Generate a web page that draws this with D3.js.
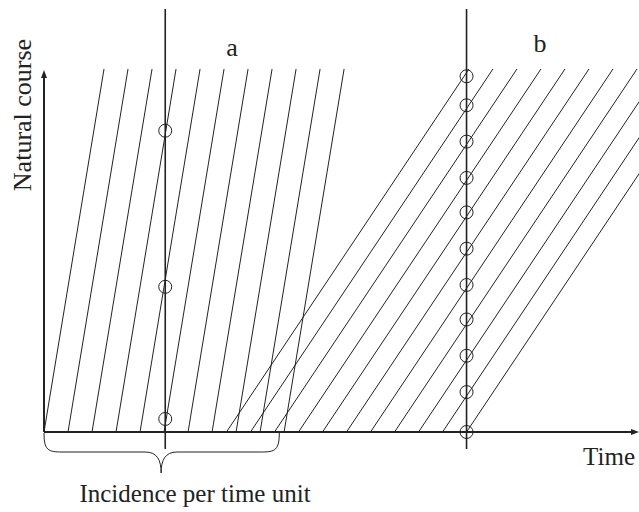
<!DOCTYPE html>
<html>
<head>
<meta charset="utf-8">
<script src="https://cdn.jsdelivr.net/npm/d3@7"></script>
<style>
  body { margin: 0; background: #fff; }
</style>
</head>
<body>
<svg id="chart" width="639" height="512"></svg>
<script>
// cohorts of the two diseases: time of onset and time the natural course ends
var aStarts = [0, 1, 2, 3, 4, 5, 6, 7, 8, 9, 10];
var aEnds = [2.5, 3.5, 4.5, 5.5, 6.5, 7.5, 8.5, 9.5, 10.5, 11.5, 12.5];
var bStarts = [7.6, 8.6, 9.6, 10.6, 11.6, 12.6, 13.6, 14.6, 15.6, 16.6, 17.6];
var bEnds = [17.7, 18.7, 19.7, 20.7, 21.7, 22.7, 23.7, 24.7, 25.7, 26.7, 27.7];

// prevalent cases seen on each cross section (natural course position)
var aCircles = [3.6, 40, 83];
var bCircles = [0, 11, 21, 31, 40.5, 50.5, 60.5, 70, 80, 90, 98];

var crossTimes = [5.05, 17.6];      // the two cross sections a and b
var crossLabels = ["a", "b"];
var crossRange = [-4.7, 116.5];     // vertical extent of the cross sections
var braceSpan = [0, 9.8];           // incidence per time unit

var serif = "'Liberation Serif', 'Times New Roman', 'DejaVu Serif', serif";

var svg = d3.select("#chart");

var x = d3.scaleLinear().domain([0, 24.7]).range([44, 637]);
var y = d3.scaleLinear().domain([0, 100]).range([432, 69]);

var ink = "#222";

// cohort lines
var g = svg.append("g").attr("class", "cohorts");

g.selectAll("line.a")
    .data(aStarts)
  .enter().append("line")
    .attr("class", "a")
    .attr("x1", function (d) { return x(d); })
    .attr("y1", y(0))
    .attr("x2", function (d, i) { return x(aEnds[i]); })
    .attr("y2", y(100))
    .attr("stroke", ink)
    .attr("stroke-width", 1);

g.selectAll("line.b")
    .data(bStarts)
  .enter().append("line")
    .attr("class", "b")
    .attr("x1", function (d) { return x(d); })
    .attr("y1", y(0))
    .attr("x2", function (d, i) { return x(bEnds[i]); })
    .attr("y2", y(100))
    .attr("stroke", ink)
    .attr("stroke-width", 1);

// cross sections
svg.selectAll("line.cross")
    .data(crossTimes)
  .enter().append("line")
    .attr("class", "cross")
    .attr("x1", function (d) { return x(d); })
    .attr("x2", function (d) { return x(d); })
    .attr("y1", y(crossRange[0]))
    .attr("y2", y(crossRange[1]))
    .attr("stroke", ink)
    .attr("stroke-width", 1.6);

// axes (no ticks, just arrows)
svg.append("line")
    .attr("x1", x(0)).attr("y1", y(0))
    .attr("x2", x(0)).attr("y2", y(100) + 6)
    .attr("stroke", ink).attr("stroke-width", 2);
svg.append("path")
    .attr("d", "M" + x(0) + "," + (y(100) + 1) + "l-3,8h6z")
    .attr("fill", ink);

svg.append("line")
    .attr("x1", x(0)).attr("y1", y(0))
    .attr("x2", x(24.7) - 4).attr("y2", y(0))
    .attr("stroke", ink).attr("stroke-width", 2);
svg.append("path")
    .attr("d", "M" + (x(24.7) + 2) + "," + y(0) + "l-8,-3v6z")
    .attr("fill", ink);

// circles on the cross sections
function circles(vals, t, cls) {
    svg.selectAll("circle." + cls)
        .data(vals)
      .enter().append("circle")
        .attr("class", cls)
        .attr("cx", x(t))
        .attr("cy", function (d) { return y(d); })
        .attr("r", 6.5)
        .attr("fill", "none")
        .attr("stroke", ink)
        .attr("stroke-width", 1);
}
circles(aCircles, crossTimes[0], "ca");
circles(bCircles, crossTimes[1], "cb");

// brace under the axis
var bx0 = x(braceSpan[0]), bx1 = x(braceSpan[1]), bm = (bx0 + bx1) / 2 - 0.5;
var bTop = y(0) + 1, bMid = y(0) + 20, bTip = y(0) + 41;
svg.append("path")
    .attr("d",
        "M" + bx0 + "," + bTop +
        "C" + bx0 + "," + (bMid - 2) + " " + (bx0 + 4) + "," + bMid + " " + (bx0 + 18) + "," + bMid +
        "L" + (bm - 16) + "," + bMid +
        "C" + (bm - 4) + "," + bMid + " " + bm + "," + (bMid + 8) + " " + bm + "," + bTip +
        "C" + bm + "," + (bMid + 8) + " " + (bm + 4) + "," + bMid + " " + (bm + 16) + "," + bMid +
        "L" + (bx1 - 18) + "," + bMid +
        "C" + (bx1 - 4) + "," + bMid + " " + bx1 + "," + (bMid - 2) + " " + bx1 + "," + bTop)
    .attr("fill", "none")
    .attr("stroke", ink)
    .attr("stroke-width", 1);

// labels
svg.selectAll("text.cross")
    .data(crossLabels)
  .enter().append("text")
    .attr("class", "cross")
    .attr("x", function (d, i) { return [232, 540][i]; })
    .attr("y", function (d, i) { return [56, 52][i]; })
    .attr("text-anchor", "middle")
    .attr("font-family", serif)
    .attr("font-size", 26)
    .attr("fill", ink)
    .text(function (d) { return d; });

svg.append("text")
    .attr("transform", "translate(31,115) rotate(-90)")
    .attr("text-anchor", "middle")
    .attr("font-family", serif)
    .attr("font-size", 26)
    .attr("fill", ink)
    .text("Natural course");

svg.append("text")
    .attr("x", 635).attr("y", 465)
    .attr("text-anchor", "end")
    .attr("font-family", serif)
    .attr("font-size", 25)
    .attr("fill", ink)
    .text("Time");

svg.append("text")
    .attr("x", 195).attr("y", 502)
    .attr("text-anchor", "middle")
    .attr("font-family", serif)
    .attr("font-size", 25)
    .attr("fill", ink)
    .text("Incidence per time unit");
</script>
</body>
</html>
